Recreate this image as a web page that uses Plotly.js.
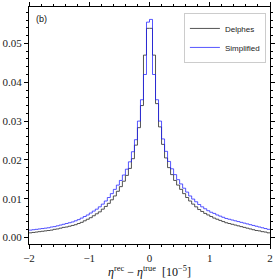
<!DOCTYPE html>
<html>
<head>
<meta charset="utf-8">
<script src="https://cdn.plot.ly/plotly-3.0.1.min.js"></script>
<style>html,body{margin:0;padding:0;background:#fff;}#chart{width:280px;height:280px;}</style>
</head>
<body>
<div id="chart"></div>
<script>
// Histogram binning: 80 bins of width 0.05 over [-2, 2] (units of 1e-5)
const binStart = -2;
const binWidth = 0.05;
const nBins = 80;

// Delphes, bins from -2 to 0
const delphesLeft = [
  0.0012, 0.0013, 0.0014, 0.0015, 0.0016, 0.0017, 0.0018, 0.0019, 0.0021, 0.0022,
  0.0024, 0.0026, 0.0027, 0.0029, 0.0031, 0.0033, 0.0036, 0.0039, 0.0043, 0.0047,
  0.0051, 0.0056, 0.0061, 0.0066, 0.0073, 0.0080, 0.0088, 0.0097, 0.0107, 0.0119,
  0.0131, 0.0145, 0.0160, 0.0178, 0.0203, 0.0238, 0.0283, 0.0340, 0.0470, 0.0539
];
// Delphes, bins from 0 to 2
const delphesRight = [
  0.0539, 0.0470, 0.0345, 0.0285, 0.0240, 0.0205, 0.0180, 0.0162, 0.0147, 0.0135,
  0.0124, 0.0113, 0.0103, 0.0094, 0.0086, 0.0079, 0.0072, 0.0067, 0.0062, 0.0058,
  0.0054, 0.0050, 0.0047, 0.0044, 0.0041, 0.0038, 0.0036, 0.0034, 0.0032, 0.0030,
  0.0028, 0.0026, 0.0024, 0.0022, 0.0020, 0.0018, 0.0017, 0.0015, 0.0014, 0.0012
];
// Simplified, bins from -2 to 0
const simplifiedLeft = [
  0.0019, 0.0020, 0.0021, 0.0022, 0.0023, 0.0024, 0.0025, 0.0027, 0.0028, 0.0030,
  0.0032, 0.0034, 0.0036, 0.0038, 0.0040, 0.0043, 0.0046, 0.0050, 0.0054, 0.0058,
  0.0063, 0.0068, 0.0073, 0.0079, 0.0086, 0.0094, 0.0103, 0.0113, 0.0124, 0.0135,
  0.0147, 0.0161, 0.0176, 0.0195, 0.0221, 0.0252, 0.0300, 0.0355, 0.0420, 0.0555
];
// Simplified, bins from 0 to 2
const simplifiedRight = [
  0.0562, 0.0420, 0.0355, 0.0300, 0.0254, 0.0222, 0.0196, 0.0177, 0.0162, 0.0149,
  0.0138, 0.0127, 0.0117, 0.0107, 0.0099, 0.0092, 0.0085, 0.0079, 0.0074, 0.0069,
  0.0065, 0.0062, 0.0058, 0.0055, 0.0052, 0.0049, 0.0047, 0.0045, 0.0043, 0.0041,
  0.0039, 0.0037, 0.0035, 0.0033, 0.0031, 0.0029, 0.0027, 0.0025, 0.0023, 0.0021
];

const seriesNames = ["Delphes", "Simplified"];
const xTickVals = [-2, -1, 0, 1, 2];
const yTickVals = [0.00, 0.01, 0.02, 0.03, 0.04, 0.05];
const yTickText = ["0.00", "0.01", "0.02", "0.03", "0.04", "0.05"];

const edges = [];
for (let i = 0; i <= nBins; i++) edges.push(+(binStart + i * binWidth).toFixed(4));

function stepTrace(values, name, color) {
  const y = values.concat([values[values.length - 1]]);
  return {
    type: "scatter", mode: "lines", name: name,
    x: edges, y: y,
    line: {shape: "hv", color: color, width: 1},
    hoverinfo: "skip"
  };
}

const delphes = delphesLeft.concat(delphesRight);
const simplified = simplifiedLeft.concat(simplifiedRight);

const data = [
  stepTrace(delphes, seriesNames[0], "rgba(40,40,40,0.8)"),
  stepTrace(simplified, seriesNames[1], "rgba(30,30,255,0.75)")
];

const serif = "Liberation Serif";
const axisCommon = {
  showline: true, linecolor: "#000", linewidth: 1, mirror: "allticks",
  ticks: "outside", ticklen: 4, tickwidth: 1, tickcolor: "#000",
  showgrid: false, zeroline: false,
  tickfont: {family: serif, size: 11, color: "#222"}
};

const layout = {
  width: 280, height: 280,
  margin: {l: 29, r: 10, t: 7, b: 36},
  paper_bgcolor: "#fff", plot_bgcolor: "#fff",
  showlegend: true,
  legend: {
    x: 0.983, y: 0.975, xanchor: "right", yanchor: "top",
    bgcolor: "#fff", bordercolor: "#ccc", borderwidth: 1,
    font: {family: "Liberation Sans", size: 8, color: "#222"},
    tracegroupgap: 0
  },
  xaxis: Object.assign({}, axisCommon, {
    range: [-2, 2], tickvals: xTickVals, ticktext: ["\u22122", "\u22121", "0", "1", "2"],
    minor: {dtick: 0.2, ticks: "outside", ticklen: 2, tickcolor: "#000", tickwidth: 1},
    title: {
      text: "<i>\u03b7</i><sup>rec</sup> \u2212 <i>\u03b7</i><sup>true</sup>  [10<sup>\u22125</sup>]",
      font: {family: serif, size: 12, color: "#111"}, standoff: 3
    }
  }),
  yaxis: Object.assign({}, axisCommon, {
    range: [-0.00168, 0.0594], tickvals: yTickVals, ticktext: yTickText,
    minor: {dtick: 0.002, ticks: "outside", ticklen: 2, tickcolor: "#000", tickwidth: 1}
  }),
  annotations: [{
    xref: "paper", yref: "paper", x: 0.05, y: 0.95, xanchor: "center", yanchor: "middle",
    text: "(b)", showarrow: false, font: {family: "Liberation Sans", size: 9, color: "#111"}
  }]
};

Plotly.newPlot("chart", data, layout, {staticPlot: true, displayModeBar: false});
</script>
</body>
</html>
